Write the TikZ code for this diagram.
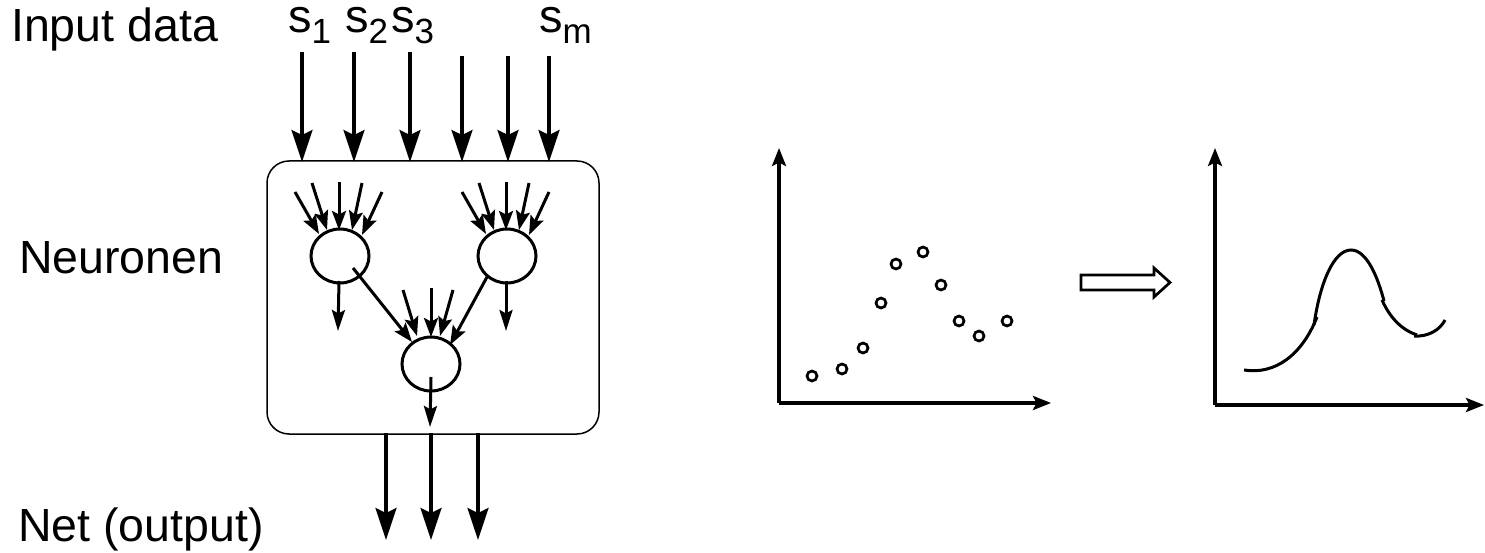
\documentclass[tikz,border=0pt]{standalone}
\usepackage{fontspec}
\setmainfont{Liberation Sans}
\usetikzlibrary{arrows.meta,shapes.geometric}
\begin{document}
\begin{tikzpicture}[x=1pt,y=-1pt,
  bigarr/.style={line width=3.3pt,-{Stealth[length=32pt,width=21pt,inset=5pt]}},
  smallarr/.style={line width=3pt,-{Stealth[length=19pt,width=14pt,inset=3.5pt]}},
  downarr/.style={line width=3pt,-{Stealth[length=21pt,width=13pt,inset=3.5pt]}},
  axisarr/.style={line width=3.2pt,-{Stealth[length=18pt,width=14pt,inset=3.5pt]}},
  neuron/.style={draw,line width=3pt,ellipse,minimum width=58pt,minimum height=54pt,inner sep=0pt},
  lbl/.style={font=\fontsize{46.5}{52}\selectfont,inner sep=0pt,anchor=base west},
  slbl/.style={font=\fontsize{47}{52}\selectfont,inner sep=0pt,anchor=base west,text height=24pt,text depth=13pt},
  dot/.style={draw,line width=2.7pt,circle,minimum size=10pt,inner sep=0pt},
  curve/.style={line width=3pt}]
\useasboundingbox (0,0) rectangle (1485,553);
\newcommand{\subs}[1]{\raisebox{-11pt}{\fontsize{35}{40}\selectfont #1}}
% labels
\node[lbl] (tin) at (11,42) {Input data};
\node[lbl] (tneu) at (19,273) {Neuronen};
\node[lbl] (tnet) at (18,541) {Net (output)};
\node[slbl] (s1) at (288,33) {s\subs{1}};
\node[slbl] (s2) at (345,33) {s\subs{2}};
\node[slbl] (s3) at (391,33) {s\subs{3}};
\node[slbl] (sm) at (539,33) {s\subs{m}};
% box
\node[draw,line width=1.5pt,rounded corners=22pt,minimum width=332pt,minimum height=273pt,inner sep=0pt] (box) at (433,297.5) {};
% input arrows
\foreach \x/\ys [count=\i] in {302/52,354/52,410/52,462/56,508/56,549/56}{
  \coordinate (ia\i) at (\x,\ys);
  \coordinate (ib\i) at (\x,162);
  \draw[bigarr] (ia\i) -- (ib\i);
}
% neurons
\node[neuron] (nl) at (340,256) {};
\node[neuron] (nr) at (507,256) {};
\node[neuron] (nb) at (431,364) {};
% incoming small arrows
\foreach \dx/\nm in {0/l,167/r}{
  \foreach \sx/\sy/\ex/\ey [count=\j] in {295/192/319/234, 312/183/327/230, 339/182/339/230, 362/183/352/230, 382/192/362/235}{
    \coordinate (a\nm\j) at (\sx+\dx,\sy);
    \coordinate (b\nm\j) at (\ex+\dx,\ey);
    \draw[smallarr] (a\nm\j) -- (b\nm\j);
  }
}
% down arrows from top neurons
\coordinate (dl1) at (339,281); \coordinate (dl2) at (338,331);
\coordinate (dr1) at (506,281); \coordinate (dr2) at (506,331);
\draw[downarr] (dl1) -- (dl2);
\draw[downarr] (dr1) -- (dr2);
% diagonals to bottom neuron
\coordinate (gl1) at (353,268); \coordinate (gl2) at (412,342);
\coordinate (gr1) at (487,277); \coordinate (gr2) at (450,345);
\draw[smallarr] (gl1) -- (gl2);
\draw[smallarr] (gr1) -- (gr2);
% bottom neuron inputs
\coordinate (c1) at (403,290); \coordinate (c1e) at (417,336);
\coordinate (c2) at (431,288); \coordinate (c2e) at (431,337);
\coordinate (c3) at (453,290); \coordinate (c3e) at (440,336);
\draw[smallarr] (c1) -- (c1e);
\draw[smallarr] (c2) -- (c2e);
\draw[smallarr] (c3) -- (c3e);
% bottom neuron output
\coordinate (o1) at (431,377); \coordinate (o2) at (430,427);
\draw[downarr] (o1) -- (o2);
% output arrows
\foreach \x [count=\i] in {386,431,478}{
  \coordinate (oa\i) at (\x,433);
  \coordinate (ob\i) at (\x,540);
  \draw[bigarr] (oa\i) -- (ob\i);
}
% graph 1
\coordinate (g1o) at (779,403);
\coordinate (g1y) at (779,148);
\coordinate (g1x) at (1051,403);
\draw[axisarr] (g1o) -- (g1y);
\draw[axisarr] (g1o) -- (g1x);
\foreach \px/\py [count=\k] in {812/376,842/369,863/348,881/303,896/264,923/252,941/285,959/321,979/336,1007/321}{
  \node[dot] (p\k) at (\px,\py) {};
}
% hollow arrow
\draw[line width=2.7pt,line join=miter] (1081,275) -- (1154,275) -- (1154,268) -- (1170,282.5) -- (1154,297) -- (1154,290) -- (1081,290) -- cycle;
% graph 2
\coordinate (g2o) at (1215,405);
\coordinate (g2y) at (1215,148);
\coordinate (g2x) at (1484,405);
\draw[axisarr] (g2o) -- (g2y);
\draw[axisarr] (g2o) -- (g2x);
\draw[curve] (1244,370) .. controls (1275,375) and (1302,355) .. (1317,317);
\draw[curve] (1314,325) .. controls (1320,282) and (1334,250) .. (1351,250)
  .. controls (1367,250) and (1378,278) .. (1384,301);
\draw[curve] (1382,300) .. controls (1390,318) and (1402,330) .. (1417,335);
\draw[curve] (1414,336) .. controls (1428,337) and (1440,330) .. (1445,320);
\end{tikzpicture}
\end{document}
